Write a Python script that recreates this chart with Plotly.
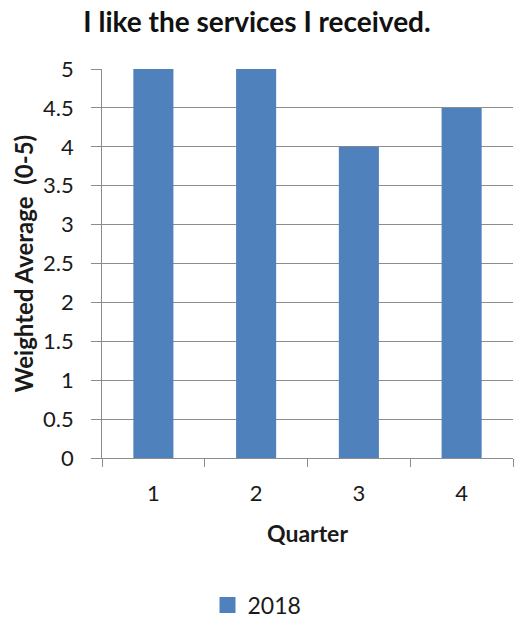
import plotly.graph_objects as go

quarters = [1, 2, 3, 4]
values_2018 = [5, 5, 4, 4.5]
series_name = "2018"
y_ticks = [0, 0.5, 1, 1.5, 2, 2.5, 3, 3.5, 4, 4.5, 5]

FONT = "Lato, Open Sans, sans-serif"
GRID = "#8c8c8c"
BAR = "#4F81BD"
W, H = 514, 620
ML, MR, MT, MB = 102, 1, 69, 162
PAD = "<span style='color:rgba(0,0,0,0)'>0</span>"  # invisible spacer between label and tick

fig = go.Figure()
fig.add_trace(go.Bar(
    x=quarters, y=values_2018, name=series_name,
    marker=dict(color=BAR, line=dict(width=0)),
    width=0.39, showlegend=False, legendgroup="s",
))
# legend entry only (larger square swatch)
fig.add_trace(go.Scatter(
    x=[None], y=[None], name=series_name, mode="markers",
    marker=dict(symbol="square", size=16, color=BAR, line=dict(width=0)),
    showlegend=True, legendgroup="s",
))

plot_w = W - ML - MR
fig.update_layout(
    width=W, height=H,
    margin=dict(l=ML, r=MR, t=MT, b=MB),
    paper_bgcolor="white", plot_bgcolor="white",
    font=dict(family=FONT, size=22, color="#1a1a1a"),
    title=dict(text="<b>I like the services I received.</b>",
               x=0.5, xref="container", xanchor="center",
               y=1 - 22 / H, yref="container", yanchor="middle",
               font=dict(size=28, family=FONT, color="#111")),
    showlegend=True,
    legend=dict(orientation="h", xref="container", yref="container",
                x=0.5, xanchor="center", y=1 - 605 / H, yanchor="middle",
                font=dict(size=23, family=FONT), itemwidth=30),
    annotations=[dict(
        text="<b>Weighted Average  (0-5)</b>", textangle=-90,
        xref="paper", yref="paper", x=(23 - ML) / plot_w, y=0.5,
        xanchor="center", yanchor="middle", showarrow=False,
        font=dict(size=24, family=FONT, color="#1a1a1a"),
    )],
)
fig.update_xaxes(
    range=[0.5, 4.5], tickvals=quarters, ticktext=[str(q) for q in quarters],
    ticks="", showgrid=False, showline=True, linecolor=GRID, linewidth=1,
    minor=dict(ticks="outside", tick0=0.5, dtick=1, ticklen=8, tickcolor=GRID, showgrid=False),
    title=dict(text="<b>Quarter</b>", font=dict(size=23, family=FONT), standoff=20),
    ticklabelstandoff=16, zeroline=False,
)
fig.update_yaxes(
    range=[0, 5], tickvals=y_ticks,
    ticktext=[("%g" % v) + PAD for v in y_ticks],
    showgrid=True, gridcolor=GRID, gridwidth=1,
    showline=True, linecolor=GRID, linewidth=1,
    ticks="outside", ticklen=10, tickcolor=GRID,
    zeroline=False,
)
fig.write_html("out.html", post_script="document.body.style.margin='0';",
               config={"displayModeBar": False})
